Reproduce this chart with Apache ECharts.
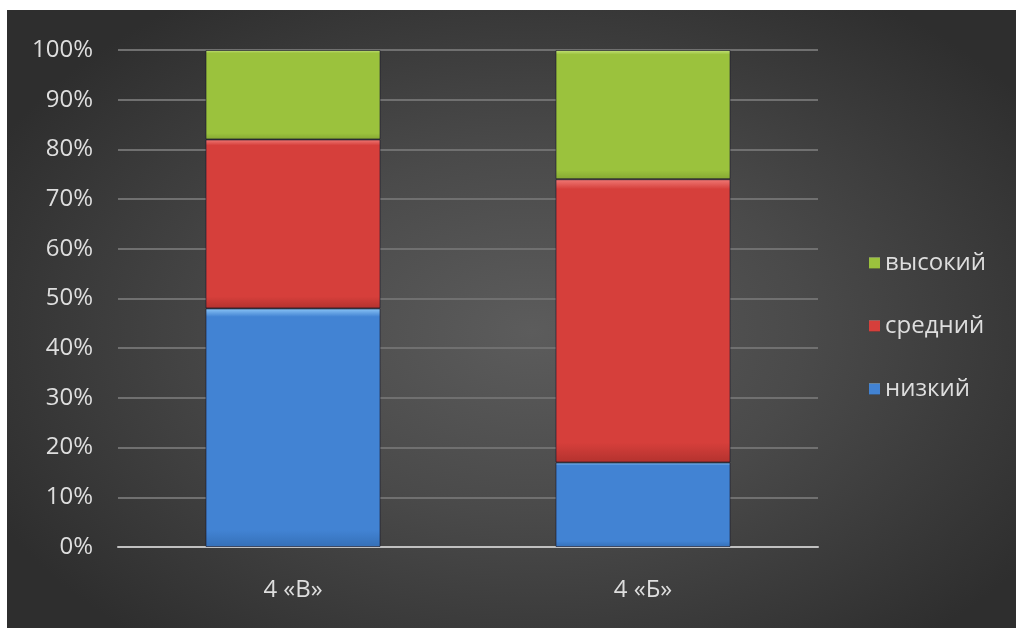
<!DOCTYPE html>
<html>
<head>
<meta charset="utf-8">
<script src="https://cdn.jsdelivr.net/npm/echarts@6/dist/echarts.min.js"></script>
<style>
html,body{margin:0;padding:0;background:#fff;width:1016px;height:628px;overflow:hidden;}
#chart{position:absolute;left:7px;top:10px;width:1009px;height:618px;
background:radial-gradient(ellipse 60% 65% at 52% 52%, #5c5c5c 0%, #4a4a4a 45%, #2e2e2e 100%);}
</style>
</head>
<body>
<div id="chart"></div>
<script>
var categories = ['4 «В»', '4 «Б»'];
var seriesNames = ['низкий', 'средний', 'высокий'];
var low = [48, 17];
var mid = [34, 57];
var high = [18, 26];
var yTicks = [0, 10, 20, 30, 40, 50, 60, 70, 80, 90, 100];

var font = '"Open Sans", sans-serif';
function grad(top, mid, bot) {
  return new echarts.graphic.LinearGradient(0, 0, 0, 1, [
    {offset: 0, color: top}, {offset: 0.035, color: mid}, {offset: 0.93, color: mid}, {offset: 1, color: bot}
  ]);
}
var colors = [
  grad('#8cc6f7', '#4283d3', '#3570b8'),
  grad('#f07a76', '#d63f3b', '#b3322e'),
  grad('#c7e47c', '#9bc23d', '#86a833')
];
var legendColors = ['#3f82d4', '#d63f3b', '#9bc23d'];
var datas = [low, mid, high];
var chart = echarts.init(document.getElementById('chart'));
var series = seriesNames.map(function(n, i){
  return {
    name: n, type: 'bar', stack: 'total', barWidth: '50%',
    data: datas[i],
    itemStyle: {color: colors[i], borderColor: 'rgba(20,20,40,0.6)', borderWidth: 1},
    color: legendColors[i]
  };
});
chart.setOption({
  animation: false,
  backgroundColor: 'transparent',
  grid: {left: 111, right: 198, top: 40, bottom: 81},
  legend: {
    orient: 'vertical', left: 857, top: 236,
    data: ['высокий', 'средний', 'низкий'],
    itemWidth: 11, itemHeight: 11, itemGap: 39, icon: 'rect',
    textStyle: {color: '#dedede', fontSize: 24, fontFamily: font},
    itemStyle: {borderWidth: 0}
  },
  xAxis: {
    type: 'category', data: categories,
    axisLine: {lineStyle: {color: '#c0c0c0', width: 2}},
    axisTick: {show: false},
    axisLabel: {color: '#dedede', fontSize: 24, fontFamily: font, margin: 31}
  },
  yAxis: {
    type: 'value', min: 0, max: 100, interval: 10,
    axisLine: {show: false}, axisTick: {show: false},
    splitLine: {lineStyle: {color: '#707070', width: 2}},
    axisLabel: {color: '#dedede', fontSize: 24, fontFamily: font, margin: 25,
      formatter: function(v){ return yTicks.indexOf(v) >= 0 ? v + '%' : ''; }}
  },
  series: series
});
</script>
</body>
</html>
